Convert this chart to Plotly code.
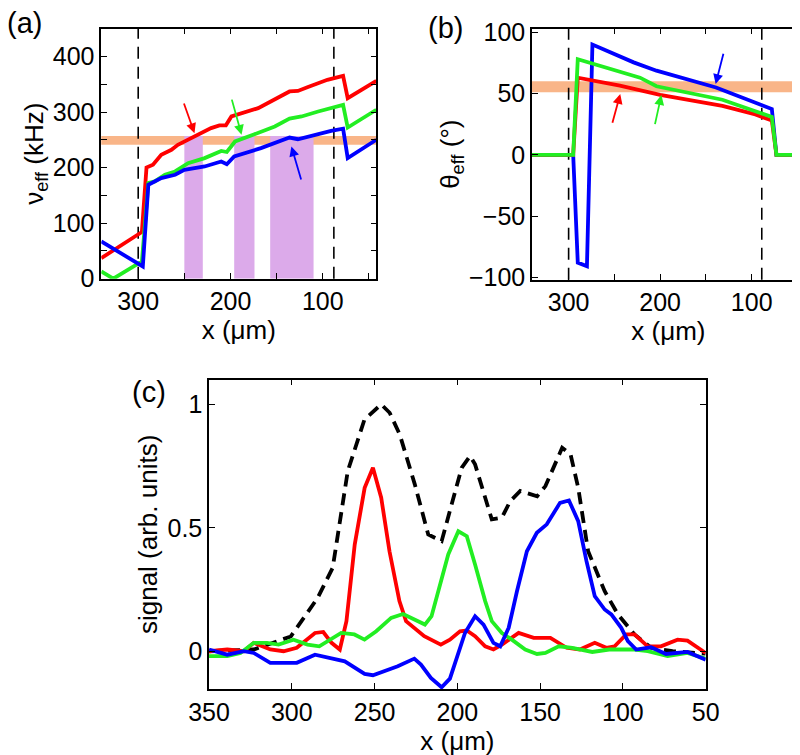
import plotly.graph_objects as go

# ---------------- data ----------------
# panel (a): effective frequency (kHz) vs x (um)
red_a_x = [340, 296, 291, 284, 275, 264, 257, 246, 230, 221, 212, 205, 199, 170, 136, 127, 116, 95, 78, 73, 42]
red_a_y = [37, 84, 200, 205, 223, 232, 241, 250, 262, 271, 276, 276, 292, 307, 337, 338, 345, 358, 365, 325, 356]
green_a_x = [340, 327, 296, 289, 282, 271, 260, 246, 228, 210, 204, 195, 174, 152, 136, 123, 105, 91, 78, 73, 42]
green_a_y = [13, 0, 31, 172, 175, 187, 193, 208, 217, 230, 228, 247, 260, 274, 288, 292, 301, 307, 313, 272, 304]
blue_a_x = [340, 295, 289, 275, 260, 250, 228, 210, 204, 196, 167, 136, 127, 109, 91, 78, 73, 42]
blue_a_y = [67, 22, 169, 181, 187, 196, 202, 211, 206, 220, 235, 254, 251, 259, 266, 270, 217, 250]
dashed_a = [300, 88]
band_a = [241, 257]
purple_x0 = [250, 196, 157]
purple_x1 = [230, 174, 110]
purple_top = 257
arrows_a = [  # (tail x, tail y, head x, head y, colour)
    (251, 318, 239, 262, "red"),
    (199, 325, 188, 259, "green"),
    (123, 176, 134, 238, "blue"),
]

# panel (b): effective angle (deg) vs x (um)
red_b_x = [340, 295, 290, 244, 200, 132, 96, 78, 73, 42]
red_b_y = [0, 0, 63, 56.5, 49, 40, 33, 28, 0, 0]
green_b_x = [340, 295, 290, 222, 204, 197, 132, 78, 73, 42]
green_b_y = [0, 0, 78, 63, 56, 55, 45, 31, 0, 0]
blue_b_x = [340, 295, 290, 280, 274, 229, 204, 139, 78, 73, 42]
blue_b_y = [0, 0, -88, -91, 90, 75.5, 68.7, 55, 37.4, 0, 0]
dashed_b = [300, 89]
band_b = [51, 60]
arrows_b = [
    (252.6, 25, 243.6, 49.7, "red"),
    (206, 23.8, 198.7, 48.8, "green"),
    (130.5, 83.7, 139.4, 57.8, "blue"),
]

# panel (c): signal vs x (um)
black_c_x = [350, 323, 300.6, 284.4, 275.3, 266.2, 256.1, 246, 240.9, 234.8, 225.7, 217.6, 209.5, 203.5,
             197.4, 192.3, 189.3, 179.2, 173.1, 168.1, 162, 151.8, 146.8, 136.7, 131.6, 127, 121, 111,
             103, 93, 83, 70, 50]
black_c_y = [0.0, 0.007, 0.06, 0.216, 0.338, 0.73, 0.939, 1.0, 0.966, 0.878, 0.676, 0.473, 0.446, 0.595,
             0.743, 0.791, 0.757, 0.534, 0.541, 0.608, 0.649, 0.628, 0.669, 0.824, 0.797, 0.662, 0.405, 0.243,
             0.149, 0.068, 0.014, 0.0, -0.01]
red_c_x = [350, 339, 329, 323, 313, 305, 297, 286, 281, 276, 271, 267, 262, 256, 251, 246, 241, 235, 231,
           226, 220, 210, 204.5, 198.4, 194.3, 189.3, 183.2, 178.2, 173.1, 163, 153.9, 143.8, 134, 126, 117,
           110, 105, 98, 93, 85, 77, 67, 61, 50]
red_c_y = [0, 0.007, 0, 0.034, 0.007, 0, 0.014, 0.074, 0.078, 0.034, 0.007, 0.122, 0.432, 0.662, 0.743,
           0.622, 0.405, 0.203, 0.122, 0.095, 0.061, 0.027, 0.047, 0.081, 0.084, 0.061, 0.02, 0.007, 0.027,
           0.074, 0.054, 0.054, 0.014, 0.007, 0.034, 0.014, 0.02, 0.068, 0.068, 0.02, 0.02, 0.047, 0.043, -0.007]
green_c_x = [350, 339, 331, 323, 315, 308, 299, 290.5, 283.4, 277.3, 270.2, 262.2, 256.1, 249, 240, 232.8,
             225.7, 219.6, 215.6, 211.6, 205.5, 199.4, 194.3, 189.3, 183.2, 179.2, 173.1, 167.1, 159, 151.9,
             146.8, 138.7, 130.6, 118.5, 108.3, 93, 85, 73, 61, 50]
green_c_y = [-0.02, -0.02, -0.007, 0.034, 0.034, 0.027, 0.047, 0.027, 0.02, 0.047, 0.074, 0.068, 0.047, 0.081,
             0.135, 0.151, 0.128, 0.108, 0.142, 0.243, 0.392, 0.486, 0.466, 0.351, 0.203, 0.122, 0.074, 0.047,
             0.007, -0.011, -0.007, 0.02, 0.014, -0.003, 0.007, 0.007, 0.0, -0.02, -0.007, -0.03]
blue_c_x = [350, 339, 329, 323, 313, 297, 286, 276, 268, 256, 251, 236, 226, 222, 216, 209.5, 204.5, 195.4,
            189.3, 184.2, 178.2, 174.1, 169, 164, 158, 152, 146, 138, 132.6, 127, 122, 117, 111, 107, 101,
            97, 92, 83, 74, 61, 50]
blue_c_y = [0.007, -0.014, 0, -0.007, -0.047, -0.047, -0.014, -0.03, -0.041, -0.092, -0.097, -0.061, -0.03,
            -0.054, -0.108, -0.146, -0.111, 0.074, 0.142, 0.108, 0.034, 0.02, 0.095, 0.243, 0.405, 0.48, 0.514,
            0.601, 0.611, 0.527, 0.365, 0.223, 0.169, 0.149, 0.095, 0.041, 0.007, 0.016, -0.011, -0.003, -0.034]

x_ticks_ab = [300, 200, 100]
x_minor_ab = [300, 250, 200, 150, 100, 50]
y_ticks_a = [0, 100, 200, 300, 400]
y_minor_a = [0, 50, 100, 150, 200, 250, 300, 350, 400]
y_ticks_b = [-100, -50, 0, 50, 100]
y_labels_b = ["\u2212100", "\u221250", "0", "50", "100"]
x_ticks_c = [350, 300, 250, 200, 150, 100, 50]
y_ticks_c = [0, 0.5, 1]
y_labels_c = ["0", "0.5", "1"]

# ---------------- styling ----------------
RED, GREEN, BLUE = "#ff0000", "#22ee22", "#0000ff"
COL = {"red": RED, "green": GREEN, "blue": BLUE}
ORANGE = "rgba(248,168,115,0.85)"
PURPLE = "#dcaaea"
FONT = "Liberation Sans, Arial, sans-serif"
FS = 25
LW = 3.8

fig = go.Figure()

def line(x, y, color, xa, ya, dash="solid"):
    fig.add_trace(go.Scatter(x=x, y=y, mode="lines", xaxis=xa, yaxis=ya,
                             line=dict(color=color, width=LW, dash=dash), showlegend=False,
                             hoverinfo="skip"))

# panel (a)
line(red_a_x, red_a_y, RED, "x", "y")
line(green_a_x, green_a_y, GREEN, "x", "y")
line(blue_a_x, blue_a_y, BLUE, "x", "y")
# panel (b)
line(blue_b_x, blue_b_y, BLUE, "x2", "y2")
line(red_b_x, red_b_y, RED, "x2", "y2")
line(green_b_x, green_b_y, GREEN, "x2", "y2")
# panel (c)
line(black_c_x, black_c_y, "black", "x3", "y3", dash="12px,7px")
line(red_c_x, red_c_y, RED, "x3", "y3")
line(green_c_x, green_c_y, GREEN, "x3", "y3")
line(blue_c_x, blue_c_y, BLUE, "x3", "y3")

shapes = []
for x0, x1 in zip(purple_x0, purple_x1):
    shapes.append(dict(type="rect", xref="x", yref="y", x0=x0, x1=x1, y0=0, y1=purple_top,
                       fillcolor=PURPLE, line=dict(width=0), layer="below"))
shapes.append(dict(type="rect", xref="x domain", yref="y", x0=0, x1=1, y0=band_a[0], y1=band_a[1],
                   fillcolor=ORANGE, line=dict(width=0), layer="below"))
shapes.append(dict(type="rect", xref="x2 domain", yref="y2", x0=0, x1=1, y0=band_b[0], y1=band_b[1],
                   fillcolor=ORANGE, line=dict(width=0), layer="below"))
for xv in dashed_a:
    shapes.append(dict(type="line", xref="x", yref="y domain", x0=xv, x1=xv, y0=0, y1=1,
                       line=dict(color="black", width=1.6, dash="12px,8px"), layer="below"))
for xv in dashed_b:
    shapes.append(dict(type="line", xref="x2", yref="y2 domain", x0=xv, x1=xv, y0=0, y1=1,
                       line=dict(color="black", width=1.6, dash="12px,8px"), layer="below"))

annotations = []
for (tx, ty, hx, hy, c), (xr, yr) in [(a, ("x", "y")) for a in arrows_a] + [(a, ("x2", "y2")) for a in arrows_b]:
    annotations.append(dict(x=hx, y=hy, ax=tx, ay=ty, xref=xr, yref=yr, axref=xr, ayref=yr,
                            showarrow=True, arrowhead=2, arrowsize=1.1, arrowwidth=1.8,
                            arrowcolor=COL[c], text=""))
for txt, xp, yp in [("(a)", -0.004, 1.004), ("(b)", 0.523, 0.998), ("(c)", 0.152, 0.515)]:
    annotations.append(dict(text=txt, x=xp, y=yp, xref="paper", yref="paper", xanchor="left",
                            yanchor="top", showarrow=False, font=dict(size=29, family=FONT, color="black")))

axis_common = dict(showline=True, linecolor="black", linewidth=1.5, mirror="ticks", ticks="inside",
                   ticklen=6, tickwidth=1.2, tickcolor="black", showgrid=False, zeroline=False,
                   automargin=False,
                   tickfont=dict(size=FS, family=FONT, color="black"))
minor_common = dict(ticks="inside", ticklen=6, tickwidth=1.2, tickcolor="black", showgrid=False)
xtitle = dict(text="x (\u03bcm)", font=dict(size=FS + 1, family=FONT, color="black"))

fig.update_layout(
    width=800, height=755, margin=dict(l=0, r=0, t=0, b=0),
    paper_bgcolor="white", plot_bgcolor="white",
    shapes=shapes, annotations=annotations,
    xaxis=dict(domain=[0.1166, 0.4604], range=[340, 42], anchor="y",
               tickmode="array", tickvals=x_ticks_ab,
               minor=dict(minor_common, tickmode="array", tickvals=x_minor_ab),
               title=dict(xtitle, standoff=4), **axis_common),
    yaxis=dict(domain=[0.6415, 0.9726], range=[0, 450], anchor="x",
               tickmode="array", tickvals=y_ticks_a,
               minor=dict(minor_common, tickmode="array", tickvals=y_minor_a),
               title=dict(text="\u03bd<sub>eff</sub> (kHz)", font=dict(size=FS + 1, family=FONT, color="black"),
                          standoff=2), **axis_common),
    xaxis2=dict(domain=[0.655, 0.996], range=[340, 42], anchor="y2",
                tickmode="array", tickvals=x_ticks_ab,
                minor=dict(minor_common, tickmode="array", tickvals=x_minor_ab),
                title=dict(xtitle, standoff=4), **axis_common),
    yaxis2=dict(domain=[0.6401, 0.9726], range=[-102, 103], anchor="x2",
                tickmode="array", tickvals=y_ticks_b, ticktext=y_labels_b,
                title=dict(text="\u03b8<sub>eff</sub> (\u00b0)", font=dict(size=FS + 1, family=FONT, color="black"),
                           standoff=2), **axis_common),
    xaxis3=dict(domain=[0.2513, 0.8721], range=[350, 50], anchor="y3",
                tickmode="array", tickvals=x_ticks_c,
                title=dict(xtitle, standoff=4), **axis_common),
    yaxis3=dict(domain=[0.098, 0.5077], range=[-0.153, 1.1], anchor="x3",
                tickmode="array", tickvals=y_ticks_c, ticktext=y_labels_c,
                title=dict(text="signal (arb. units)", font=dict(size=FS + 1, family=FONT, color="black"),
                           standoff=2), **axis_common),
)

fig.write_html("out.html")
